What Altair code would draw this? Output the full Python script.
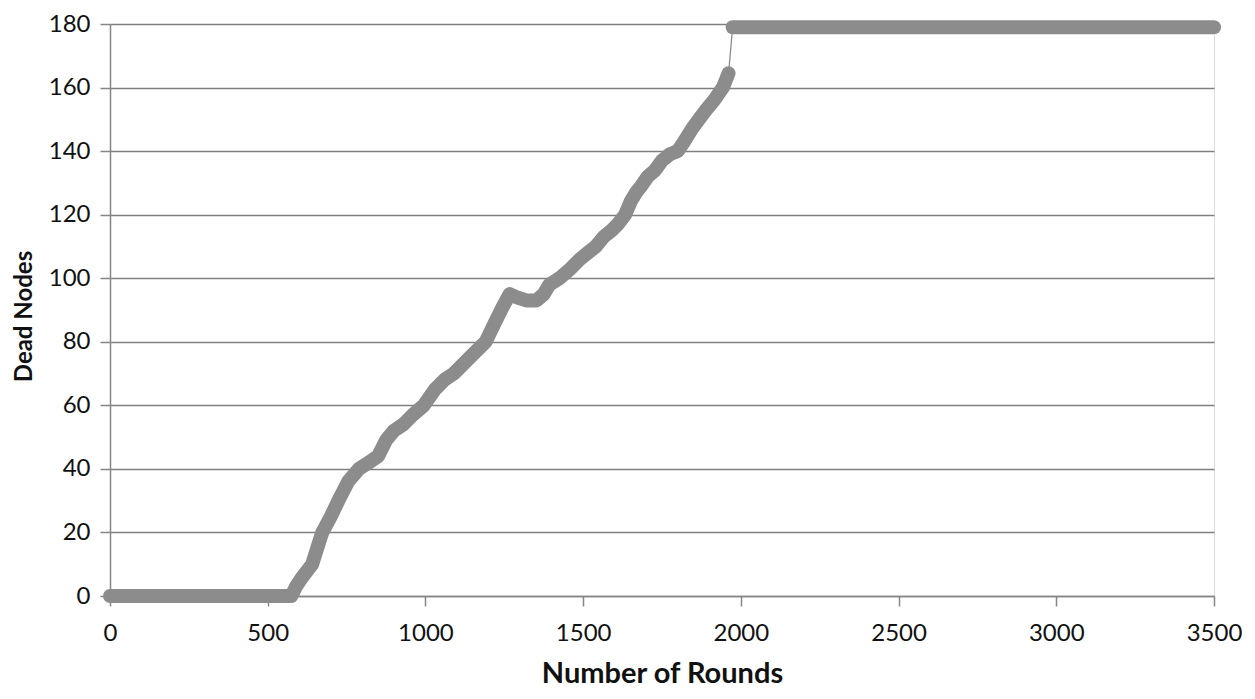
import altair as alt
import pandas as pd

# Rising phase (rounds, dead nodes)
rounds_a = [0, 100, 200, 300, 400, 500, 575, 590, 610, 641, 660, 673, 700, 724, 755, 789,
            820, 850, 875, 900, 930, 960, 995, 1030, 1060, 1090, 1120, 1150, 1191, 1220,
            1245, 1267, 1290, 1320, 1352, 1375, 1393, 1425, 1460, 1490, 1515, 1540, 1565,
            1590, 1610, 1633, 1650, 1668, 1684, 1705, 1728, 1750, 1775, 1800, 1820, 1845,
            1867, 1890, 1915, 1943, 1955, 1961]
dead_a = [0, 0, 0, 0, 0, 0, 0, 3, 6, 10, 16, 20, 25, 30, 36, 40,
          42, 44, 49, 52, 54, 57, 60, 65, 68, 70, 73, 76, 80, 86,
          91, 95, 94, 93, 93, 95, 98, 100, 103, 106, 108, 110, 113,
          115, 117, 120, 124, 127, 129, 132, 134, 137, 139, 140, 143, 147,
          150, 153, 156, 160, 163, 164.5]
# All nodes dead phase
rounds_b = [1974, 2000, 2500, 3000, 3500]
dead_b = [179, 179, 179, 179, 179]

rows = []
i = 0
for x, y in zip(rounds_a, dead_a):
    rows.append({"rounds": x, "dead": y, "seg": "a", "i": i}); i += 1
for x, y in zip(rounds_b, dead_b):
    rows.append({"rounds": x, "dead": y, "seg": "b", "i": i}); i += 1
df = pd.DataFrame(rows)

GRAY = "#8c8c8c"
AX = "#868686"
FONT = "Lato"

xs = alt.Scale(domain=[0, 3500], nice=False, zero=False)
ys = alt.Scale(domain=[0, 180], nice=False)

x_enc = alt.X("rounds:Q", scale=xs,
              axis=alt.Axis(title="Number of  Rounds", values=list(range(0, 3501, 500)),
                            format="d", grid=False, tickSize=10, tickColor=AX, tickWidth=1.5,
                            domainColor=AX, domainWidth=1.5, labelFontSize=24, labelFont=FONT,
                            labelColor="#111111", labelPadding=15, titleFont=FONT,
                            titleFontSize=29, titleFontWeight="bold", titleColor="#111111",
                            titleY=86, titleBaseline="alphabetic", labelFlush=False))
y_enc = alt.Y("dead:Q", scale=ys,
              axis=alt.Axis(title="Dead  Nodes", values=list(range(0, 181, 20)),
                            grid=True, gridColor="#7f7f7f", gridWidth=1.5, tickSize=10,
                            tickColor=AX, tickWidth=1.5, domainColor=AX, domainWidth=1.5,
                            labelFontSize=24, labelFont=FONT, labelColor="#111111",
                            labelPadding=10, titleFont=FONT, titleFontSize=24,
                            titleFontWeight="bold", titleColor="#111111",
                            titleX=-86, titleY=292, titleBaseline="middle"))

thin = alt.Chart(df).mark_line(color=GRAY, strokeWidth=1.3).encode(
    x=x_enc, y=y_enc, order="i:Q")
thick = alt.Chart(df).mark_line(color=GRAY, strokeWidth=14, strokeCap="round",
                                 strokeJoin="round").encode(
    x=x_enc, y=y_enc, detail="seg:N", order="i:Q")

chart = alt.layer(thin, thick).properties(
    width=1104, height=572,
    autosize=alt.AutoSizeParams(type="none"),
    padding={"left": 102, "top": 16, "right": 32, "bottom": 92},
).configure_view(stroke=None).configure(background="white")

chart.save("out.html", embed_options={"renderer": "svg", "actions": False})
